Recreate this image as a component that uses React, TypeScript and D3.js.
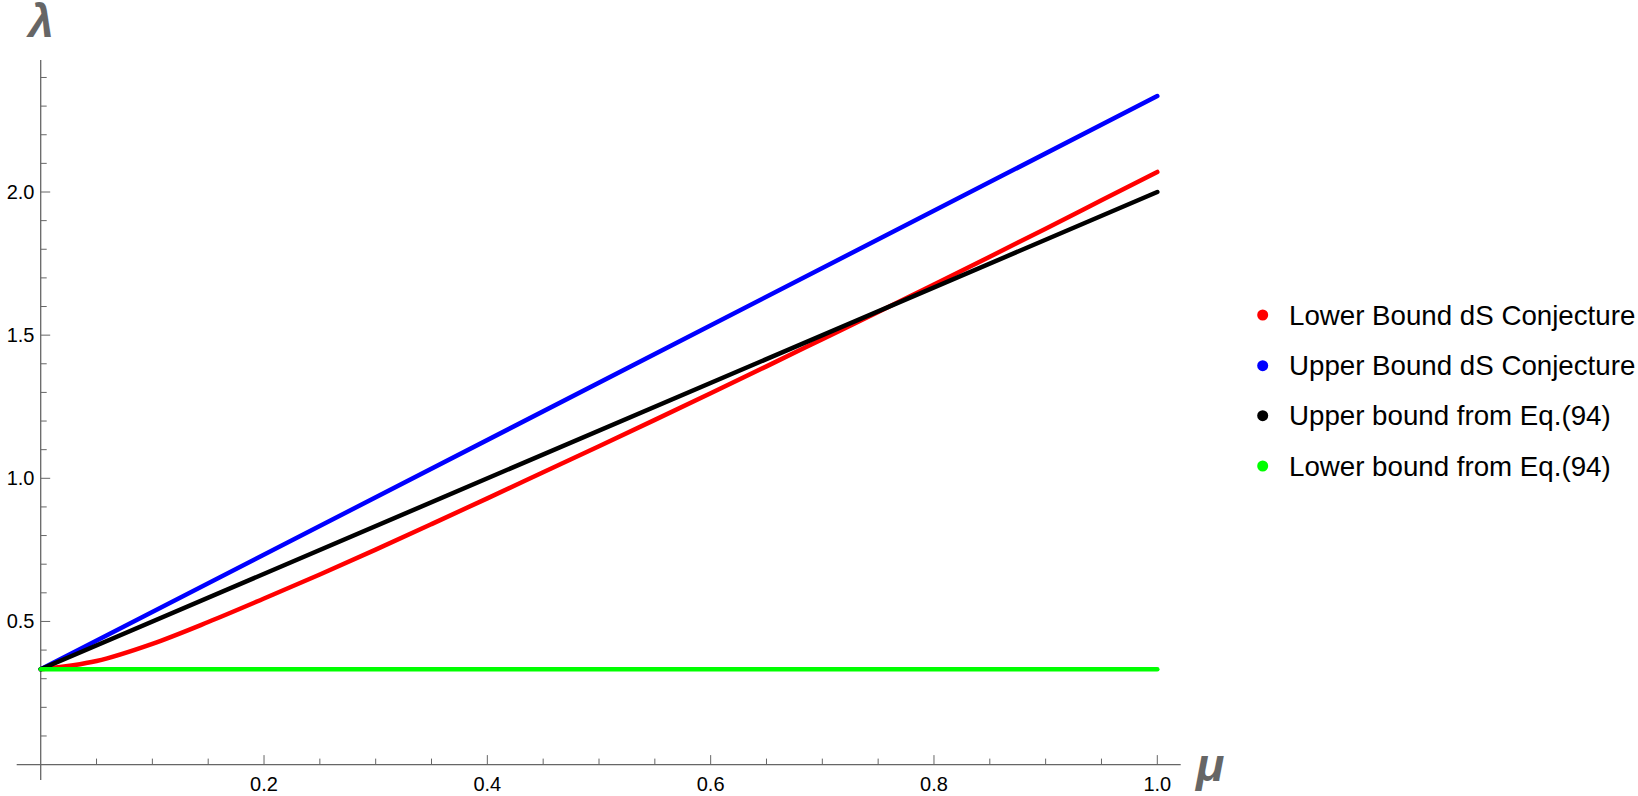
import React from "react";
import * as d3 from "d3";

// ---- data ----
const muRed = [0, 0.05, 0.1, 0.15, 0.2, 0.25, 0.3, 0.35, 0.4, 0.45, 0.5, 0.55, 0.6, 0.65, 0.7, 0.75, 0.8, 0.85, 0.9, 0.95, 1.0];
const lambdaRed = [0.333, 0.362, 0.422, 0.498, 0.58, 0.664, 0.751, 0.84, 0.93, 1.021, 1.112, 1.204, 1.297, 1.391, 1.486, 1.581, 1.677, 1.774, 1.872, 1.971, 2.07];
const muBlue = [0, 1.0];
const lambdaBlue = [0.333, 2.335];
const muBlack = [0, 1.0];
const lambdaBlack = [0.333, 2.0];
const muGreen = [0, 1.0];
const lambdaGreen = [0.333, 0.333];

const seriesNames = [
  "Lower Bound dS Conjecture",
  "Upper Bound dS Conjecture",
  "Upper bound from Eq.(94)",
  "Lower bound from Eq.(94)",
];
const seriesColors = ["#ff0000", "#0000ff", "#000000", "#00ff00"];

const xMajorTicks = [0.2, 0.4, 0.6, 0.8, 1.0];
const xMinorTicks = [0.05, 0.1, 0.15, 0.25, 0.3, 0.35, 0.45, 0.5, 0.55, 0.65, 0.7, 0.75, 0.85, 0.9, 0.95];
const yMajorTicks = [0.5, 1.0, 1.5, 2.0];
const yMinorTicks = [0.1, 0.2, 0.3, 0.4, 0.6, 0.7, 0.8, 0.9, 1.1, 1.2, 1.3, 1.4, 1.6, 1.7, 1.8, 1.9, 2.1, 2.2, 2.3, 2.4];

export default function App() {
  const W = 1638;
  const H = 796;
  const x = d3.scaleLinear().domain([0, 1]).range([40.7, 1157.3]);
  const y = d3.scaleLinear().domain([0, 1]).range([764.6, 478.3]);
  const axisColor = "#666666";
  const font = "'Liberation Sans', Arial, sans-serif";

  const mk = (mus: number[], lams: number[]) =>
    mus.map((m, i) => [m, lams[i]] as [number, number]);
  const line = d3
    .line<[number, number]>()
    .x((d) => x(d[0]))
    .y((d) => y(d[1]))
    .curve(d3.curveMonotoneX);

  const series = [
    { data: mk(muRed, lambdaRed), color: seriesColors[0] },
    { data: mk(muBlue, lambdaBlue), color: seriesColors[1] },
    { data: mk(muBlack, lambdaBlack), color: seriesColors[2] },
    { data: mk(muGreen, lambdaGreen), color: seriesColors[3] },
  ];

  const x0 = x(0);
  const y0 = y(0);
  const legendY = [315, 365.7, 415.7, 466];

  return (
    <svg
      width={W}
      height={H}
      style={{ position: "absolute", left: 0, top: 0, background: "#fff" }}
    >
      {/* axes */}
      <line x1={16.7} x2={1180.7} y1={y0} y2={y0} stroke={axisColor} strokeWidth={1.3} />
      <line x1={x0} x2={x0} y1={60} y2={780} stroke={axisColor} strokeWidth={1.3} />
      {xMinorTicks.map((t) => (
        <line key={"xm" + t} x1={x(t)} x2={x(t)} y1={y0} y2={y0 - 6} stroke={axisColor} strokeWidth={1} />
      ))}
      {xMajorTicks.map((t) => (
        <g key={"xM" + t}>
          <line x1={x(t)} x2={x(t)} y1={y0} y2={y0 - 9.5} stroke={axisColor} strokeWidth={1} />
          <text x={x(t)} y={791} textAnchor="middle" fontFamily={font} fontSize={20} fill="#000">
            {t.toFixed(1)}
          </text>
        </g>
      ))}
      {yMinorTicks.map((t) => (
        <line key={"ym" + t} x1={x0} x2={x0 + 6} y1={y(t)} y2={y(t)} stroke={axisColor} strokeWidth={1} />
      ))}
      {yMajorTicks.map((t) => (
        <g key={"yM" + t}>
          <line x1={x0} x2={x0 + 9.5} y1={y(t)} y2={y(t)} stroke={axisColor} strokeWidth={1} />
          <text x={34.5} y={y(t) + 7} textAnchor="end" fontFamily={font} fontSize={20} fill="#000">
            {t.toFixed(1)}
          </text>
        </g>
      ))}

      {/* axis labels */}
      <text x={41} y={37} textAnchor="middle" fontFamily={font} fontSize={46} fontWeight="bold" fontStyle="italic" fill={axisColor}>
        λ
      </text>
      <text x={1196} y={781} fontFamily={font} fontSize={47} fontWeight="bold" fontStyle="italic" fill={axisColor}>
        μ
      </text>

      {/* curves */}
      {series.map((s, i) => (
        <path
          key={"s" + i}
          d={line(s.data) || ""}
          fill="none"
          stroke={s.color}
          strokeWidth={4.5}
          strokeLinecap="round"
          strokeLinejoin="round"
        />
      ))}

      {/* legend */}
      {seriesNames.map((n, i) => (
        <g key={"lg" + i}>
          <circle cx={1262.7} cy={legendY[i]} r={5.5} fill={seriesColors[i]} />
          <text x={1289} y={legendY[i] + 9.6} fontFamily={font} fontSize={27.7} fill="#000">
            {n}
          </text>
        </g>
      ))}
    </svg>
  );
}
